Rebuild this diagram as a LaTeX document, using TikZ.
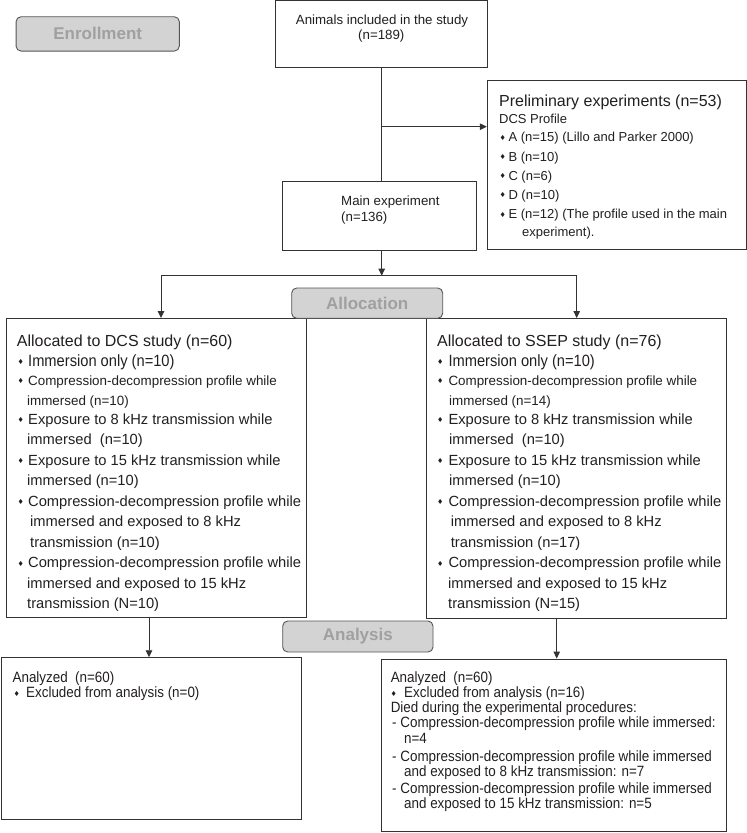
\documentclass[tikz,border=0pt]{standalone}
\usepackage{fontspec}
\setmainfont{Liberation Sans}
\newfontfamily\narrowf[FakeStretch=0.9]{Liberation Sans}
\newfontfamily\symf{DejaVu Sans}
\usetikzlibrary{arrows.meta}
\definecolor{ink}{HTML}{231F20}
\definecolor{edge}{HTML}{333333}
\definecolor{lblfill}{HTML}{D3D3D3}
\definecolor{lbltext}{HTML}{A0A0A0}
\definecolor{lbledge}{HTML}{555555}
\newcommand\fTitle{\fontsize{16}{18}\selectfont}
\newcommand\fBody{\fontsize{14.7}{17}\selectfont}
\newcommand\fSmall{\fontsize{13.4}{16}\selectfont}
\newcommand\fTop{\fontsize{13.3}{16}\selectfont}
\newcommand\fPre{\fontsize{13}{15}\selectfont}
\newcommand\fNar{\narrowf\fontsize{14.9}{16}\selectfont}
\newcommand\fImm{\narrowf\fontsize{16.3}{18}\selectfont}
\newcommand\fLbl{\bfseries\fontsize{17}{19}\selectfont}
\newcommand\bu[1]{\makebox[#1][l]{\raisebox{1.2pt}{\symf\fontsize{7}{7}\selectfont ♦}}}
\newcommand\tline[4]{\node[tl,font=#1] (#2) at (#3) {#4};}
\begin{document}
\begin{tikzpicture}[x=1pt,y=-1pt,
  box/.style={draw=edge,line width=0.9pt,fill=white,inner sep=0pt},
  lbl/.style={draw=lbledge,line width=0.9pt,fill=lblfill,rounded corners=5pt,inner sep=0pt,text=lbltext,font=\fLbl},
  tl/.style={anchor=base west,inner sep=0pt,text=ink},
  line/.style={draw=edge,line width=0.9pt},
  arr/.style={draw=edge,line width=0.9pt,-{Triangle[length=7pt,width=6.5pt]}}]
\useasboundingbox (0,0) rectangle (747,833);

% boxes
\node[box,minimum width=211.6pt,minimum height=66.7pt] (animals) at (381.5,33.95) {};
\node[box,minimum width=258.7pt,minimum height=169pt] (prelim) at (616.65,164.5) {};
\node[box,minimum width=193.7pt,minimum height=69pt] (main) at (379.15,215.5) {};
\node[box,minimum width=300.5pt,minimum height=299pt] (dcs) at (156.25,468) {};
\node[box,minimum width=300pt,minimum height=299.5pt] (ssep) at (576.7,468.25) {};
\node[box,minimum width=299.5pt,minimum height=161.6pt] (anl) at (151.25,738.5) {};
\node[box,minimum width=344.3pt,minimum height=172.7pt] (anr) at (553.85,745.35) {};

% stage labels
\node[lbl,minimum width=163.3pt,minimum height=34.3pt] (enroll) at (97.7,33.9) {Enrollment};
\node[lbl,minimum width=151pt,minimum height=30.3pt] (alloc) at (367.2,303.15) {Allocation};
\node[lbl,minimum width=150.3pt,minimum height=31pt] (analysis) at (357.85,636.5) {Analysis};

% connectors
\coordinate (j1) at (381.7,126.7);
\coordinate (j2) at (381.7,275.7);
\coordinate (hl) at (161,275.7);
\coordinate (hr) at (576.7,275.7);
\coordinate (c1) at (149,640);
\coordinate (c2) at (556.7,640);
\draw[line] (j1 |- animals.south) -- (j1 |- main.north);
\draw[arr] (j1) -- (j1 -| prelim.west);
\draw[arr] (j2 |- main.south) -- (j2);
\draw[line] (hl) -- (hr);
\draw[arr] (hl) -- (hl |- dcs.north);
\draw[arr] (hr) -- (hr |- ssep.north);
\draw[arr] (c1 |- dcs.south) -- (c1 |- anl.north);
\draw[arr] (c2 |- ssep.south) -- (c2 |- anr.north);

% texts: enrollment
\tline{\fTop}{a1}{295.7,24}{Animals included in the study}
\tline{\fTop}{a2}{358,39.5}{(n=189)}
\tline{\fTitle}{p0}{499,106}{Preliminary experiments (n=53)}
\tline{\fPre}{p1}{499,123.3}{DCS Profile}
\tline{\fPre}{p2}{499.5,141.7}{\bu{8.8pt}A (n=15) (Lillo and Parker 2000)}
\tline{\fPre}{p3}{499.5,161}{\bu{8.8pt}B (n=10)}
\tline{\fPre}{p4}{499.5,180}{\bu{8.8pt}C (n=6)}
\tline{\fPre}{p5}{499.5,199}{\bu{8.8pt}D (n=10)}
\tline{\fPre}{p6}{499.5,218.3}{\bu{8.8pt}E (n=12) (The profile used in the main}
\tline{\fPre}{p7}{522,236.7}{experiment).}
\tline{\fTop}{m1}{341,205}{Main experiment}
\tline{\fTop}{m2}{341,221.7}{(n=136)}

% DCS study
\tline{\fTitle}{d0}{16.7,346.7}{Allocated to DCS study (n=60)}
\tline{\fImm}{d1}{17.3,366}{\bu{10.7pt}Immersion only (n=10)}
\tline{\fSmall}{d2}{17.3,385}{\bu{10.7pt}Compression-decompression profile while}
\tline{\fSmall}{d3}{27,405}{immersed (n=10)}
\tline{\fBody}{d4}{17.3,424}{\bu{10.7pt}Exposure to 8 kHz transmission while}
\tline{\fBody}{d5}{27,444.5}{immersed\ \ (n=10)}
\tline{\fBody}{d6}{17.3,465}{\bu{10.7pt}Exposure to 15 kHz transmission while}
\tline{\fBody}{d7}{27,485.5}{immersed (n=10)}
\tline{\fBody}{d8}{17.3,506}{\bu{10.7pt}Compression-decompression profile while}
\tline{\fBody}{d9}{30,526.5}{immersed and exposed to 8 kHz}
\tline{\fBody}{d10}{30,547}{transmission (n=10)}
\tline{\fBody}{d11}{17.3,567.5}{\bu{10.7pt}Compression-decompression profile while}
\tline{\fBody}{d12}{27,588}{immersed and exposed to 15 kHz}
\tline{\fBody}{d13}{27,608.5}{transmission (N=10)}

% SSEP study
\tline{\fTitle}{s0}{437,346.7}{Allocated to SSEP study (n=76)}
\tline{\fImm}{s1}{437,366}{\bu{11.3pt}Immersion only (n=10)}
\tline{\fSmall}{s2}{437,385}{\bu{11.3pt}Compression-decompression profile while}
\tline{\fSmall}{s3}{449,405}{immersed (n=14)}
\tline{\fBody}{s4}{437,424}{\bu{11.3pt}Exposure to 8 kHz transmission while}
\tline{\fBody}{s5}{449,444.5}{immersed\ \ (n=10)}
\tline{\fBody}{s6}{437,465}{\bu{11.3pt}Exposure to 15 kHz transmission while}
\tline{\fBody}{s7}{449,485.5}{immersed (n=10)}
\tline{\fBody}{s8}{437,506}{\bu{11.3pt}Compression-decompression profile while}
\tline{\fBody}{s9}{450.7,526.5}{immersed and exposed to 8 kHz}
\tline{\fBody}{s10}{450.7,547}{transmission (n=17)}
\tline{\fBody}{s11}{437,567.5}{\bu{11.3pt}Compression-decompression profile while}
\tline{\fBody}{s12}{448,588}{immersed and exposed to 15 kHz}
\tline{\fBody}{s13}{448,608.5}{transmission (N=15)}

% Analysis
\tline{\fNar}{l1}{12.4,682.5}{Analyzed\ \ (n=60)}
\tline{\fNar}{l2}{13.5,697.5}{\bu{12.5pt}Excluded from analysis (n=0)}
\tline{\fNar}{r1}{390.6,682.5}{Analyzed\ \ (n=60)}
\tline{\fNar}{r2}{390.5,697.5}{\bu{13.5pt}Excluded from analysis (n=16)}
\tline{\fNar}{r3}{390.6,712.5}{Died during the experimental procedures:}
\tline{\fNar}{r4}{392,727.5}{- Compression-decompression profile while immersed:}
\tline{\fNar}{r5}{404,743.5}{n=4}
\tline{\fNar}{r6}{392,761}{- Compression-decompression profile while immersed}
\tline{\fNar}{r7}{404,776}{and exposed to 8 kHz transmission: n=7}
\tline{\fNar}{r8}{392,793.5}{- Compression-decompression profile while immersed}
\tline{\fNar}{r9}{404,808.5}{and exposed to 15 kHz transmission: n=5}
\end{tikzpicture}
\end{document}
